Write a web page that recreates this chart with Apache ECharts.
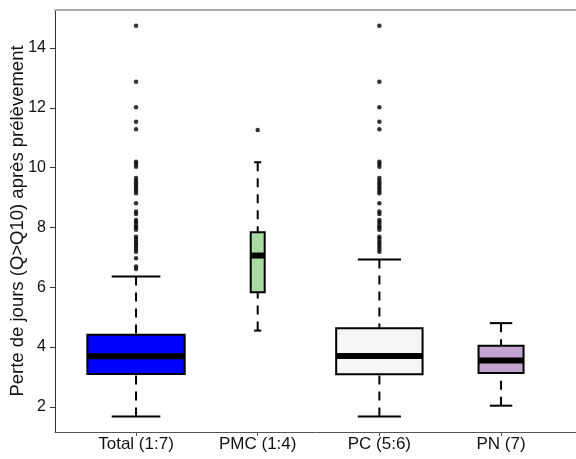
<!DOCTYPE html>
<html>
<head>
<meta charset="utf-8">
<script src="https://cdn.jsdelivr.net/npm/echarts@6/dist/echarts.min.js"></script>
<style>
html,body{margin:0;padding:0;background:#fff;}
#chart{width:576px;height:459px;}
</style>
</head>
<body>
<div id="chart"></div>
<script>
// ---- Data ----
const categories = ['Total (1:7)', 'PMC (1:4)', 'PC (5:6)', 'PN (7)'];
// [lower whisker, Q1, median, Q3, upper whisker]
const statsTotal = [1.68, 3.10, 3.69, 4.41, 6.36];
const statsPMC   = [4.55, 5.83, 7.06, 7.84, 10.18];
const statsPC    = [1.68, 3.09, 3.70, 4.63, 6.93];
const statsPN    = [2.04, 3.13, 3.55, 4.04, 4.80];
const outliersTotal = [14.74, 12.87, 12.02, 11.53, 11.28, 10.20, 10.12, 10.03, 9.65, 9.56, 9.48, 9.39, 9.31, 9.23, 9.14, 8.81, 8.53, 8.45, 8.25, 8.17, 8.08, 8.01, 7.92, 7.69, 7.61, 7.52, 7.45, 7.36, 7.28, 7.19, 6.97, 6.69, 6.61];
const outliersPMC = [11.26];
const outliersPC = [14.74, 12.87, 12.02, 11.53, 11.28, 10.20, 10.12, 10.03, 9.65, 9.56, 9.48, 9.39, 9.31, 9.23, 9.14, 8.81, 8.53, 8.45, 8.25, 8.17, 8.08, 8.01, 7.92, 7.69, 7.61, 7.52, 7.45, 7.36, 7.28, 7.19];
const outliersPN = [];
const yTicks = [2, 4, 6, 8, 10, 12, 14];

// ---- Styles ----
const boxColors = ['#0000FF', '#A8DBA0', '#F5F5F5', '#C2A5CF'];
const boxWidths = [0.80, 0.115, 0.71, 0.37]; // in category units (varwidth)

const allStats = [statsTotal, statsPMC, statsPC, statsPN];
const allOutliers = [outliersTotal, outliersPMC, outliersPC, outliersPN];

const boxData = allStats.map((s, i) => [i + 1].concat(s));
const outlierData = [];
allOutliers.forEach((arr, i) => arr.forEach(v => outlierData.push([i + 1, v])));

const fontFam = '"Liberation Sans", Arial, sans-serif';
const chart = echarts.init(document.getElementById('chart'));

function renderBox(params, api) {
  const idx = params.dataIndex;
  const x = api.value(0);
  const lo = api.coord([x, api.value(1)]);
  const q1 = api.coord([x, api.value(2)]);
  const med = api.coord([x, api.value(3)]);
  const q3 = api.coord([x, api.value(4)]);
  const hi = api.coord([x, api.value(5)]);
  const w = api.size([boxWidths[idx], 0])[0];
  const cx = lo[0];
  const half = w / 2;
  const capHalf = w / 4;
  const dash = { stroke: '#000', lineWidth: 2, lineDash: [9, 7] };
  const solid = { stroke: '#000', lineWidth: 2 };
  return {
    type: 'group',
    children: [
      { type: 'line', shape: { x1: cx, y1: hi[1], x2: cx, y2: q3[1] }, style: dash },
      { type: 'line', shape: { x1: cx, y1: lo[1], x2: cx, y2: q1[1] }, style: dash },
      { type: 'line', shape: { x1: cx - capHalf, y1: hi[1], x2: cx + capHalf, y2: hi[1] }, style: solid },
      { type: 'line', shape: { x1: cx - capHalf, y1: lo[1], x2: cx + capHalf, y2: lo[1] }, style: solid },
      { type: 'rect', shape: { x: cx - half, y: q3[1], width: w, height: q1[1] - q3[1] },
        style: { fill: boxColors[idx], stroke: '#000', lineWidth: 2 } },
      { type: 'line', shape: { x1: cx - half, y1: med[1], x2: cx + half, y2: med[1] },
        style: { stroke: '#000', lineWidth: 6 } }
    ]
  };
}

const xMin = 0.334, xMax = 4.616;
chart.setOption({
  animation: false,
  backgroundColor: '#fff',
  textStyle: { fontFamily: fontFam },
  grid: { left: 55, right: 0, top: 10, bottom: 27, containLabel: false, outerBoundsMode: 'none' },
  xAxis: [{
    type: 'value', min: xMin, max: xMax, position: 'bottom',
    axisLine: { show: true, onZero: false, lineStyle: { color: '#555', width: 1 } },
    axisTick: { show: true, customValues: [1, 2, 3, 4], length: 4, lineStyle: { color: '#555' } },
    axisLabel: { customValues: [1, 2, 3, 4], formatter: v => categories[Math.round(v) - 1],
      color: '#111', fontSize: 17, margin: 4, fontFamily: fontFam },
    splitLine: { show: false }
  }, {
    type: 'value', min: xMin, max: xMax, position: 'top',
    axisLine: { show: true, onZero: false, lineStyle: { color: '#aaa', width: 2 } },
    axisTick: { show: false }, axisLabel: { show: false }, splitLine: { show: false }
  }],
  yAxis: {
    type: 'value', min: 1.16, max: 15.27,
    axisLine: { show: true, onZero: false, lineStyle: { color: '#333', width: 1 } },
    axisTick: { show: true, customValues: yTicks, length: 5, lineStyle: { color: '#333' } },
    axisLabel: { customValues: yTicks, color: '#111', fontSize: 16, margin: 9, fontFamily: fontFam },
    splitLine: { show: false },
    name: 'Perte de jours (Q>Q10) après prélèvement',
    nameLocation: 'middle', nameGap: 28, nameMoveOverlap: false,
    nameTextStyle: { fontSize: 18.5, color: '#111', fontFamily: fontFam }
  },
  series: [{
    type: 'custom', renderItem: renderBox, data: boxData, xAxisIndex: 0,
    encode: { x: 0, y: [1, 2, 3, 4, 5] }, z: 2
  }, {
    type: 'scatter', data: outlierData, xAxisIndex: 0, symbol: 'circle', symbolSize: 4.5,
    itemStyle: { color: '#000' }, z: 3
  }]
});
</script>
</body>
</html>
